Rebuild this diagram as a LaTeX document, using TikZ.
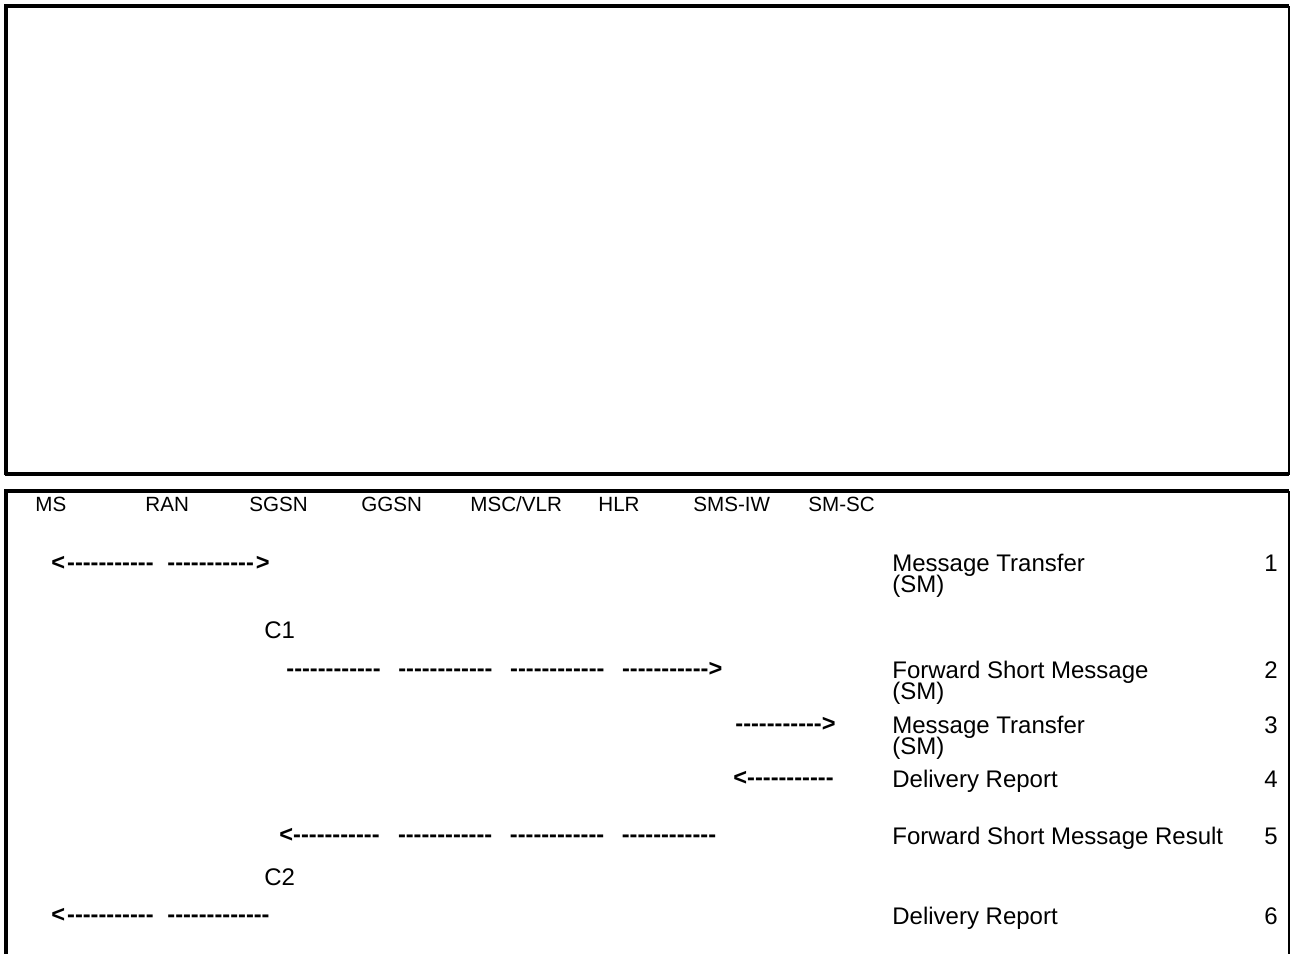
\documentclass[tikz,border=0pt]{standalone}
\usepackage{fontspec}
\setmainfont{Liberation Sans}
\newcommand\dashes[1]{\foreach\k in {1,...,#1}{-}}
\tikzset{
  ent/.style={font=\fontsize{10.3}{11}\selectfont, anchor=base west, inner sep=0pt},
  msg/.style={font=\fontsize{12}{12}\selectfont, anchor=base west, inner sep=0pt},
  arr/.style={font=\fontsize{11.8}{12}\selectfont\bfseries, anchor=base west, inner sep=0pt},
  thickline/.style={line width=2pt},
  thinline/.style={line width=1pt}
}
\begin{document}
\begin{tikzpicture}[x=0.5pt,y=-0.5pt]
  \useasboundingbox (0,0) rectangle (1292,954);
  % upper frame
  \draw[thickline] (6,475) -- (6,6) -- (1289,6);
  \draw[thinline] (1288.5,6) -- (1288.5,475);
  \draw[thickline] (5,474) -- (1289,474);
  % lower frame
  \draw[thickline] (6,954) -- (6,491) -- (1289,491);
  \draw[thinline] (1288.5,491) -- (1288.5,954);
  % entities
  \node[ent] (ms)   at (35,511)  {MS};
  \node[ent] (ran)  at (145,511) {RAN};
  \node[ent] (sgsn) at (249,511) {SGSN};
  \node[ent] (ggsn) at (361,511) {GGSN};
  \node[ent] (msc)  at (470,511) {MSC/VLR};
  \node[ent] (hlr)  at (598,511) {HLR};
  \node[ent] (smsiw) at (693,511) {SMS-IW};
  \node[ent] (smsc) at (808,511) {SM-SC};
  % messages
  \node[arr] (a1) at (51,570) {<\hspace{1pt}\dashes{11}\hspace{6.9pt}\dashes{11}\hspace{1pt}>};
  \node[msg] (t1) at (892,571) {Message Transfer};
  \node[msg] (t1s) at (892,592) {(SM)};
  \node[msg] (n1) at (1264,571) {1};
  \node[msg] (c1) at (264,638) {C1};
  \node[arr] (a2) at (286,676) {\dashes{12}\hspace{8.8pt}\dashes{12}\hspace{8.8pt}\dashes{12}\hspace{8.8pt}\dashes{11}>};
  \node[msg] (t2) at (892,678) {Forward Short Message};
  \node[msg] (t2s) at (892,699) {(SM)};
  \node[msg] (n2) at (1264,678) {2};
  \node[arr] (a3) at (735,731) {\dashes{11}>};
  \node[msg] (t3) at (892,733) {Message Transfer};
  \node[msg] (t3s) at (892,754) {(SM)};
  \node[msg] (n3) at (1264,733) {3};
  \node[arr] (a4) at (733,785) {<\dashes{11}};
  \node[msg] (t4) at (892,787) {Delivery Report};
  \node[msg] (n4) at (1264,787) {4};
  \node[arr] (a5) at (279,842) {<\dashes{11}\hspace{9.2pt}\dashes{12}\hspace{8.8pt}\dashes{12}\hspace{8.8pt}\dashes{12}};
  \node[msg] (t5) at (892,844) {Forward Short Message Result};
  \node[msg] (n5) at (1264,844) {5};
  \node[msg] (c2) at (264,885) {C2};
  \node[arr] (a6) at (51,922) {<\hspace{1pt}\dashes{11}\hspace{6.9pt}\dashes{13}};
  \node[msg] (t6) at (892,924) {Delivery Report};
  \node[msg] (n6) at (1264,924) {6};
\end{tikzpicture}
\end{document}
